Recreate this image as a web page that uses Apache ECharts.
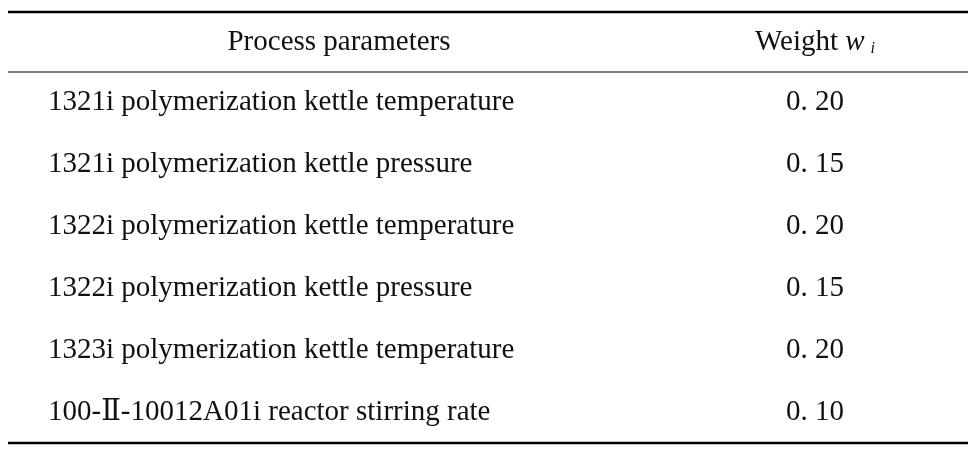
<!DOCTYPE html>
<html>
<head>
<meta charset="utf-8">
<script src="https://cdn.jsdelivr.net/npm/echarts@6/dist/echarts.min.js"></script>
<style>html,body{margin:0;padding:0;background:#fff}#chart{width:976px;height:453px}</style>
</head>
<body>
<div id="chart"></div>
<script>
const headers = ['Process parameters', 'Weight'];
const parameters = [
    '1321i polymerization kettle temperature',
    '1321i polymerization kettle pressure',
    '1322i polymerization kettle temperature',
    '1322i polymerization kettle pressure',
    '1323i polymerization kettle temperature',
    '100-Ⅱ-10012A01i reactor stirring rate'
];
const weights = ['0. 20', '0. 15', '0. 20', '0. 15', '0. 20', '0. 10'];

document.addEventListener('DOMContentLoaded', () => {
    var chart = echarts.init(document.getElementById('chart'));
    const font = '"Liberation Serif", "DejaVu Serif", serif';
    const els = [];
    // table rules
    els.push({ type: 'line', shape: { x1: 8, y1: 12, x2: 968, y2: 12 }, style: { stroke: '#000', lineWidth: 2.5 } });
    els.push({ type: 'line', shape: { x1: 8, y1: 72, x2: 968, y2: 72 }, style: { stroke: '#000', lineWidth: 1.2 } });
    els.push({ type: 'line', shape: { x1: 8, y1: 443, x2: 968, y2: 443 }, style: { stroke: '#000', lineWidth: 2.5 } });
    // header
    els.push({ type: 'text', x: 339, y: 42, style: { text: headers[0], font: '29px ' + font, fill: '#111', align: 'center', verticalAlign: 'middle', letterSpacing: 3.8 } });
    els.push({ type: 'text', x: 815, y: 42, style: {
        text: '{a|' + headers[1] + ' }{w|w}{i|i}',
        align: 'center', verticalAlign: 'middle',
        rich: {
            a: { fontFamily: font, fontSize: 29, fill: '#111', letterSpacing: 3.8 },
            w: { fontFamily: font, fontSize: 29, fontStyle: 'italic', fill: '#111' },
            i: { fontFamily: font, fontSize: 16, fontStyle: 'italic', fill: '#111', padding: [14, 0, 0, 6] }
        }
    } });
    parameters.forEach((p, k) => {
        const y = 102 + k * 62;
        els.push({ type: 'text', x: 48, y: y, style: { text: p, font: '29px ' + font, fill: '#111', align: 'left', verticalAlign: 'middle', letterSpacing: 4 } });
        els.push({ type: 'text', x: 815, y: y, style: { text: weights[k], font: '29px ' + font, fill: '#111', align: 'center', verticalAlign: 'middle', letterSpacing: 4.5 } });
    });
    chart.setOption({ backgroundColor: '#fff', graphic: els });
    window.addEventListener('resize', () => chart.resize());
});
</script>
</body>
</html>
